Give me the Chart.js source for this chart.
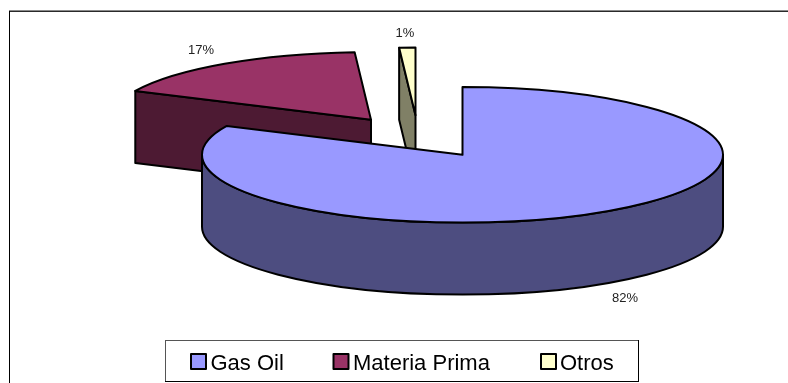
<!DOCTYPE html>
<html>
<head>
<meta charset="utf-8">
<title>Gas Oil, Materia Prima, Otros</title>
<style>
  html, body { margin: 0; padding: 0; background: #fff; }
  canvas { display: block; }
</style>
<script src="https://cdn.jsdelivr.net/npm/chart.js@4/dist/chart.umd.min.js"></script>
</head>
<body>
<canvas id="pie" width="788" height="383"></canvas>
<script>
// Chart values
const categories = ['Gas Oil', 'Materia Prima', 'Otros'];
const shares = [82, 17, 1];

// Face colours of each slice and the darker shade of its side walls
const topColors = ['#9999FF', '#993366', '#FFFFCC'];
const wallColors = ['#4D4D80', '#4D1A33', '#808066'];

// Layout of the tilted pie
const RADIUS = 260.5;
const TILT = 0.26;
const DEPTH = 72;
const sliceCentres = [[462.5, 154.8], [371, 119.8], [415.5, 115.3]];
const labelAnchors = [[625, 302], [201, 54], [405, 37]];
const legendBox = { left: 165, top: 340, right: 638, bottom: 381 };
const legendSwatchX = [191, 333.5, 541];
const legendTextX = [210.5, 353, 560];

function rimPoint(c, a) {
  return [c[0] + RADIUS * Math.cos(a), c[1] + RADIUS * TILT * Math.sin(a)];
}

function outline(ctx) {
  ctx.lineWidth = 2;
  ctx.lineJoin = 'round';
  ctx.strokeStyle = '#000';
  ctx.stroke();
}

// Flat wall hanging below one radial edge of a slice
function radialWall(ctx, c, a, color) {
  const p = rimPoint(c, a);
  ctx.beginPath();
  ctx.moveTo(c[0], c[1]);
  ctx.lineTo(p[0], p[1]);
  ctx.lineTo(p[0], p[1] + DEPTH);
  ctx.lineTo(c[0], c[1] + DEPTH);
  ctx.closePath();
  ctx.fillStyle = color;
  ctx.fill();
  outline(ctx);
}

// Curved wall along the part of the rim that faces the viewer
function rimWall(ctx, c, from, to, color) {
  const ry = RADIUS * TILT;
  ctx.beginPath();
  ctx.ellipse(c[0], c[1], RADIUS, ry, 0, from, to);
  ctx.ellipse(c[0], c[1] + DEPTH, RADIUS, ry, 0, to, from, true);
  ctx.closePath();
  ctx.fillStyle = color;
  ctx.fill();
  outline(ctx);
}

function drawWalls(ctx, el, c, color) {
  const { startAngle: s, endAngle: e } = el;
  if (Math.cos(s) < -1e-6) radialWall(ctx, c, s, color);
  if (Math.cos(e) > 1e-6) radialWall(ctx, c, e, color);
  // Front half of the ellipse is where the sine of the angle is positive
  for (let k = -1; k <= 2; k++) {
    const from = Math.max(s, 2 * k * Math.PI);
    const to = Math.min(e, (2 * k + 1) * Math.PI);
    if (to > from) rimWall(ctx, c, from, to, color);
  }
}

// Top face: the library's arc element, squashed into the tilted plane
function drawTop(ctx, el, c) {
  ctx.save();
  ctx.translate(c[0], c[1]);
  ctx.scale(1, TILT);
  ctx.translate(-el.x, -el.y);
  el.draw(ctx);
  ctx.restore();

  const ry = RADIUS * TILT;
  ctx.beginPath();
  ctx.moveTo(c[0], c[1]);
  ctx.ellipse(c[0], c[1], RADIUS, ry, 0, el.startAngle, el.endAngle);
  ctx.closePath();
  outline(ctx);
}

function drawFrame(ctx, chart) {
  ctx.fillStyle = '#8a8a8a';
  ctx.fillRect(9, 10, chart.width - 9, 1);
  ctx.fillStyle = '#2a2a2a';
  ctx.fillRect(9, 11, chart.width - 9, 1);
  ctx.fillStyle = '#000';
  ctx.fillRect(9, 11, 1, chart.height - 11);
}

function drawLegend(ctx, chart) {
  const b = legendBox;
  ctx.fillStyle = '#fff';
  ctx.fillRect(b.left, b.top, b.right - b.left, b.bottom - b.top);
  ctx.fillStyle = '#555';
  ctx.fillRect(b.left, b.top, b.right - b.left, 1);
  ctx.fillRect(b.left, b.top, 1, b.bottom - b.top);
  ctx.fillStyle = '#000';
  ctx.fillRect(b.left, b.bottom, b.right - b.left + 1, 1);
  ctx.fillRect(b.right, b.top, 1, b.bottom - b.top);

  ctx.font = '22px "Liberation Sans", Arial, sans-serif';
  ctx.textAlign = 'left';
  ctx.textBaseline = 'alphabetic';
  chart.data.labels.forEach((label, i) => {
    ctx.fillStyle = topColors[i];
    ctx.fillRect(legendSwatchX[i], 354, 15, 15);
    ctx.strokeStyle = '#000';
    ctx.lineWidth = 2;
    ctx.strokeRect(legendSwatchX[i], 354, 15, 15);
    ctx.fillStyle = '#000';
    ctx.fillText(label, legendTextX[i], 370);
  });
}

function drawValueLabels(ctx, chart) {
  ctx.font = '13px "Liberation Sans", Arial, sans-serif';
  ctx.textAlign = 'center';
  ctx.textBaseline = 'alphabetic';
  ctx.fillStyle = '#222';
  chart.data.datasets[0].data.forEach((v, i) => {
    ctx.fillText(v + '%', labelAnchors[i][0], labelAnchors[i][1]);
  });
}

const tiltedPie = {
  id: 'tiltedPie',
  beforeDatasetsDraw(chart) {
    const ctx = chart.ctx;
    const arcs = chart.getDatasetMeta(0).data;
    drawFrame(ctx, chart);
    // Paint back to front so the large slice overlaps the exploded ones
    for (let i = arcs.length - 1; i >= 0; i--) {
      drawWalls(ctx, arcs[i], sliceCentres[i], wallColors[i]);
      drawTop(ctx, arcs[i], sliceCentres[i]);
    }
    drawValueLabels(ctx, chart);
    drawLegend(ctx, chart);
    return false;
  }
};

new Chart(document.getElementById('pie'), {
  type: 'pie',
  data: {
    labels: categories,
    datasets: [{
      data: shares,
      backgroundColor: topColors,
      borderWidth: 0
    }]
  },
  options: {
    responsive: false,
    animation: false,
    radius: RADIUS,
    events: [],
    plugins: {
      legend: { display: false },
      tooltip: { enabled: false },
      title: { display: false }
    }
  },
  plugins: [tiltedPie]
});
</script>
</body>
</html>
